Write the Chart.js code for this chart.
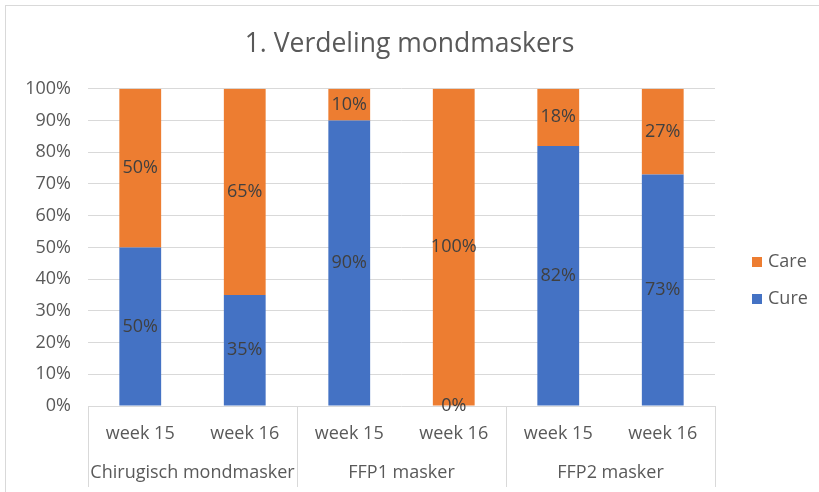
<!DOCTYPE html>
<html>
<head>
<meta charset="utf-8">
<script src="https://cdn.jsdelivr.net/npm/chart.js@4.4.0/dist/chart.umd.min.js"></script>
<style>
  html, body { margin: 0; padding: 0; background: #ffffff; }
  #wrap { width: 819px; height: 492px; position: relative; }
</style>
</head>
<body>
<div id="wrap"><canvas id="chart" width="819" height="492"></canvas></div>
<script>
// Chart data
const weekLabels = ['week 15', 'week 16', 'week 15', 'week 16', 'week 15', 'week 16'];
const groupLabels = ['Chirugisch mondmasker', 'FFP1 masker', 'FFP2 masker'];
const cureValues = [50, 35, 90, 0, 82, 73];
const careValues = [50, 65, 10, 100, 18, 27];
const yTicks = [0, 10, 20, 30, 40, 50, 60, 70, 80, 90, 100];

const FONT = "'Open Sans', sans-serif";
const GREY = '#595959';

// Outer frame like the Excel chart border
const framePlugin = {
    id: 'frame',
    beforeDraw(chart) {
        const ctx = chart.ctx;
        ctx.save();
        ctx.fillStyle = '#ffffff';
        ctx.fillRect(0, 0, chart.width, chart.height);
        ctx.strokeStyle = '#d9d9d9';
        ctx.lineWidth = 1;
        ctx.strokeRect(5.5, 5.5, chart.width + 20, chart.height + 20);
        ctx.restore();
    }
};

// Value labels centred in each bar segment
const valueLabelPlugin = {
    id: 'valueLabels',
    afterDatasetsDraw(chart) {
        const ctx = chart.ctx;
        ctx.save();
        ctx.font = '18px ' + FONT;
        ctx.fillStyle = '#404040';
        ctx.textAlign = 'center';
        ctx.textBaseline = 'middle';
        chart.data.datasets.forEach((ds, i) => {
            const meta = chart.getDatasetMeta(i);
            meta.data.forEach((bar, j) => {
                const y = (bar.y + bar.base) / 2;
                ctx.fillText(ds.data[j] + '%', bar.x, y);
            });
        });
        ctx.restore();
    }
};

// Second level of the category axis: group names and dividers
const groupAxisPlugin = {
    id: 'groupAxis',
    afterDraw(chart) {
        const x = chart.scales.x;
        const ctx = chart.ctx;
        const perGroup = weekLabels.length / groupLabels.length;
        const catWidth = (x.right - x.left) / weekLabels.length;
        ctx.save();
        ctx.strokeStyle = '#d9d9d9';
        ctx.lineWidth = 1;
        for (let g = 0; g <= groupLabels.length; g++) {
            const px = Math.round(x.left + g * perGroup * catWidth) + 0.5;
            ctx.beginPath();
            ctx.moveTo(px, x.top);
            ctx.lineTo(px, x.top + 81);
            ctx.stroke();
        }
        ctx.font = '18px ' + FONT;
        ctx.fillStyle = GREY;
        ctx.textAlign = 'center';
        ctx.textBaseline = 'middle';
        groupLabels.forEach((label, g) => {
            const cx = x.left + (g + 0.5) * perGroup * catWidth;
            ctx.fillText(label, cx, x.top + 67);
        });
        ctx.restore();
    }
};

// Legend on the right, drawn by hand so it sits where Excel puts it (Care above Cure)
const sideLegendPlugin = {
    id: 'sideLegend',
    afterDraw(chart) {
        const ctx = chart.ctx;
        const area = chart.chartArea;
        const items = chart.data.datasets.slice().reverse();
        const x0 = area.right + 37;
        const yStart = 262;
        const step = 37;
        ctx.save();
        ctx.font = '18px ' + FONT;
        ctx.textBaseline = 'middle';
        ctx.textAlign = 'left';
        items.forEach((ds, i) => {
            const y = yStart + i * step;
            ctx.fillStyle = ds.backgroundColor;
            ctx.fillRect(x0, y - 5, 10, 10);
            ctx.fillStyle = GREY;
            ctx.fillText(ds.label, x0 + 16, y);
        });
        ctx.restore();
    }
};

const chart = new Chart(document.getElementById('chart').getContext('2d'), {
    type: 'bar',
    data: {
        labels: weekLabels,
        datasets: [
            {
                label: 'Cure',
                data: cureValues,
                backgroundColor: '#4472c4',
                barPercentage: 0.4,
                categoryPercentage: 1
            },
            {
                label: 'Care',
                data: careValues,
                backgroundColor: '#ed7d31',
                barPercentage: 0.4,
                categoryPercentage: 1
            }
        ]
    },
    options: {
        responsive: false,
        animation: false,
        layout: { padding: { left: 0, right: 0, top: 0, bottom: 6 } },
        plugins: {
            title: {
                display: true,
                text: '1. Verdeling mondmaskers',
                color: GREY,
                font: { family: FONT, size: 26.5, weight: 'normal' },
                padding: { top: 29, bottom: 28 }
            },
            legend: { display: false },
            tooltip: { enabled: false }
        },
        scales: {
            x: {
                stacked: true,
                grid: { display: false, drawTicks: false },
                border: { display: false },
                ticks: {
                    color: GREY,
                    font: { family: FONT, size: 18 },
                    padding: 17,
                    maxRotation: 0
                },
                afterFit(scale) { scale.height = 80; }
            },
            y: {
                stacked: true,
                min: 0,
                max: 100,
                afterBuildTicks(scale) { scale.ticks = yTicks.map(v => ({ value: v })); },
                grid: { color: '#d9d9d9', drawTicks: false },
                border: { display: false },
                ticks: {
                    color: GREY,
                    font: { family: FONT, size: 18 },
                    padding: 17,
                    callback: v => v + '%'
                },
                afterFit(scale) { scale.width = 88; }
            },
            // empty right-hand axis that only reserves room for the legend
            legendSpace: {
                position: 'right',
                min: 0,
                max: 100,
                grid: { display: false, drawTicks: false },
                border: { display: false },
                ticks: { display: false },
                afterFit(scale) { scale.width = 104; }
            }
        }
    },
    plugins: [framePlugin, valueLabelPlugin, groupAxisPlugin, sideLegendPlugin]
});
</script>
</body>
</html>
